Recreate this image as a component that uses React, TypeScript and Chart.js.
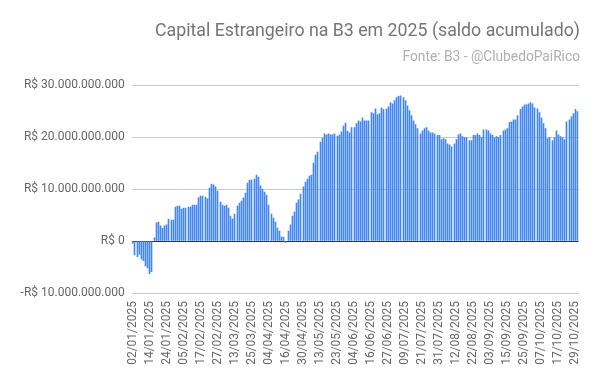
import React, { useEffect, useRef } from 'react';
import { Chart, registerables } from 'chart.js';

Chart.register(...registerables);

// Trading days (day of month) and accumulated foreign capital balance (R$ billions)
const JAN_DAYS = [2, 3, 6, 7, 8, 9, 10, 13, 14, 15, 16, 17, 20, 21, 22, 23, 24, 27, 28, 29, 30, 31];
const JAN_VALUES = [-0.45, -2.7, -3.0, -2.6, -3.5, -3.8, -4.8, -5.2, -6.3, -5.9, 0.6, 3.5, 3.65, 2.9, 2.45, 2.9, 3.1, 4.2, 4.0, 4.0, 6.5, 6.7];

const FEB_DAYS = [3, 4, 5, 6, 7, 10, 11, 12, 13, 14, 17, 18, 19, 20, 21, 24, 25, 26, 27, 28];
const FEB_VALUES = [6.7, 6.15, 6.35, 6.35, 6.5, 6.5, 6.9, 6.9, 6.9, 8.3, 8.65, 8.65, 8.45, 8.1, 10.2, 10.95, 10.8, 10.4, 9.6, 7.5];

const MAR_DAYS = [5, 6, 7, 10, 11, 12, 13, 14, 17, 18, 19, 20, 21, 24, 25, 26, 27, 28, 31];
const MAR_VALUES = [6.9, 6.7, 6.9, 6.35, 4.8, 4.2, 5.2, 6.7, 7.3, 7.7, 8.3, 9.2, 11.15, 11.7, 11.7, 11.9, 12.7, 12.3, 10.6];

const APR_DAYS = [1, 2, 3, 4, 7, 8, 9, 10, 11, 14, 15, 16, 17, 22, 23, 24, 25, 28, 29, 30];
const APR_VALUES = [10.0, 9.4, 8.85, 6.9, 5.2, 4.4, 3.65, 2.5, 1.9, 0.77, 0.77, -0.25, 1.9, 3.1, 4.8, 5.6, 7.3, 7.9, 9.0, 10.4];

const MAY_DAYS = [2, 5, 6, 7, 8, 9, 12, 13, 14, 15, 16, 19, 20, 21, 22, 23, 26, 27, 28, 29, 30];
const MAY_VALUES = [11.35, 11.9, 12.5, 12.7, 15.0, 16.5, 17.1, 19.0, 19.8, 20.6, 20.4, 20.6, 20.4, 20.4, 20.6, 20.2, 20.4, 21.0, 22.1, 22.7, 21.15];

const JUN_DAYS = [2, 3, 4, 5, 6, 9, 10, 11, 12, 13, 16, 17, 18, 20, 23, 24, 25, 26, 27, 30];
const JUN_VALUES = [20.8, 21.8, 21.8, 22.6, 23.1, 22.9, 23.7, 23.1, 23.1, 23.1, 24.7, 24.5, 25.4, 24.3, 24.5, 25.6, 25.3, 25.4, 25.8, 26.6];

const JUL_DAYS = [1, 2, 3, 4, 7, 8, 9, 10, 11, 14, 15, 16, 17, 18, 21, 22, 23, 24, 25, 28, 29, 30, 31];
const JUL_VALUES = [26.4, 27.0, 27.6, 27.8, 27.9, 27.6, 27.0, 26.0, 25.1, 24.1, 23.1, 22.4, 21.6, 20.6, 21.2, 21.6, 21.8, 21.2, 20.8, 20.8, 20.6, 20.3, 20.3];

const AUG_DAYS = [1, 4, 5, 6, 7, 8, 11, 12, 13, 14, 15, 18, 19, 20, 21, 22, 25, 26, 27, 28, 29];
const AUG_VALUES = [19.5, 19.7, 19.5, 18.7, 18.5, 18.1, 18.7, 19.5, 20.4, 20.6, 20.1, 19.9, 19.9, 19.3, 19.3, 20.3, 20.3, 20.6, 20.3, 19.9, 21.4];

const SEP_DAYS = [1, 2, 3, 4, 5, 8, 9, 10, 11, 12, 15, 16, 17, 18, 19, 22, 23, 24, 25, 26, 29, 30];
const SEP_VALUES = [21.4, 21.2, 20.6, 20.3, 19.9, 20.1, 19.9, 20.3, 21.2, 21.4, 21.6, 22.8, 22.9, 23.3, 23.3, 24.1, 25.3, 25.8, 26.2, 26.2, 26.4, 26.6];

const OCT_DAYS = [1, 2, 3, 6, 7, 8, 9, 10, 13, 14, 15, 16, 17, 20, 21, 22, 23, 24, 27, 28, 29, 30];
const OCT_VALUES = [26.4, 25.6, 25.4, 24.7, 23.7, 22.6, 21.6, 19.7, 19.9, 19.3, 19.9, 21.2, 20.4, 20.1, 19.9, 19.5, 22.9, 23.3, 23.9, 24.5, 25.3, 24.9];

const MONTHS: [string, number[], number[]][] = [
  ['01', JAN_DAYS, JAN_VALUES],
  ['02', FEB_DAYS, FEB_VALUES],
  ['03', MAR_DAYS, MAR_VALUES],
  ['04', APR_DAYS, APR_VALUES],
  ['05', MAY_DAYS, MAY_VALUES],
  ['06', JUN_DAYS, JUN_VALUES],
  ['07', JUL_DAYS, JUL_VALUES],
  ['08', AUG_DAYS, AUG_VALUES],
  ['09', SEP_DAYS, SEP_VALUES],
  ['10', OCT_DAYS, OCT_VALUES],
];

const Y_TICKS = [-10, 0, 10, 20, 30];
const TITLE = 'Capital Estrangeiro na B3 em 2025 (saldo acumulado)';
const SUBTITLE = 'Fonte: B3 - @ClubedoPaiRico';

const LABELS: string[] = [];
const VALUES: number[] = [];
MONTHS.forEach(([mm, days, vals]) => {
  days.forEach((d, i) => {
    LABELS.push(`${String(d).padStart(2, '0')}/${mm}/2025`);
    VALUES.push(vals[i]);
  });
});

function formatBRL(billions: number): string {
  const v = Math.round(billions * 1e9);
  const abs = Math.abs(v).toString().replace(/\B(?=(\d{3})+(?!\d))/g, '.');
  return (v < 0 ? '-' : '') + 'R$ ' + abs;
}

const FONT = 'Roboto';

const titlePlugin = {
  id: 'titles',
  afterDraw(chart: any) {
    const ctx = chart.ctx;
    ctx.save();
    ctx.textAlign = 'right';
    ctx.textBaseline = 'alphabetic';
    ctx.fillStyle = '#757575';
    ctx.font = `17.75px ${FONT}`;
    ctx.fillText(TITLE, 580, 35.5);
    ctx.fillStyle = '#b0b0b0';
    ctx.font = `13.75px ${FONT}`;
    ctx.fillText(SUBTITLE, 580, 61);
    ctx.restore();
  },
};

// snap the thin bars to whole pixels so they render crisp
const snapPlugin = {
  id: 'snapBars',
  afterDatasetsUpdate(chart: any) {
    const meta = chart.getDatasetMeta(0);
    meta.data.forEach((el: any) => {
      el.x = Math.floor(el.x) + 0.5;
    });
  },
};

export default function App() {
  const ref = useRef<HTMLCanvasElement>(null);
  useEffect(() => {
    if (!ref.current) return;
    const chart = new Chart(ref.current, {
      type: 'bar',
      data: {
        labels: LABELS,
        datasets: [
          {
            data: VALUES,
            backgroundColor: '#4285F4',
            borderWidth: 0,
            barThickness: 1,
          },
        ],
      },
      options: {
        responsive: false,
        animation: false,
        events: [],
        layout: { padding: { top: 85, right: 19.5, left: 0, bottom: 0 } },
        plugins: { legend: { display: false }, tooltip: { enabled: false }, title: { display: false } },
        scales: {
          x: {
            grid: { display: false, drawTicks: false },
            border: { display: false },
            ticks: {
              autoSkip: false,
              minRotation: 90,
              maxRotation: 90,
              padding: 8,
              color: '#666666',
              font: { family: FONT, size: 12 },
              callback: (_v: any, i: number) => (i % 8 === 0 ? LABELS[i] : ''),
            },
            afterFit: (s: any) => {
              s.height = 92;
            },
          },
          y: {
            min: Y_TICKS[0],
            max: Y_TICKS[Y_TICKS.length - 1],
            afterBuildTicks: (s: any) => {
              s.ticks = Y_TICKS.map((v) => ({ value: v }));
            },
            ticks: {
              padding: 7,
              color: '#666666',
              font: { family: FONT, size: 12 },
              callback: (v: any) => formatBRL(Number(v)),
            },
            grid: {
              drawTicks: false,
              color: (c: any) => (c.tick && c.tick.value === 0 ? '#333333' : '#cccccc'),
              lineWidth: 1,
            },
            border: { display: false },
            afterFit: (s: any) => {
              s.width = 131.7;
            },
          },
        },
      },
      plugins: [titlePlugin, snapPlugin],
    });
    return () => chart.destroy();
  }, []);
  return (
    <div style={{ position: 'fixed', left: 0, top: 0, width: 600, height: 385, background: '#fff' }}>
      <canvas ref={ref} width={600} height={385} style={{ width: 600, height: 385, display: 'block' }} />
    </div>
  );
}
